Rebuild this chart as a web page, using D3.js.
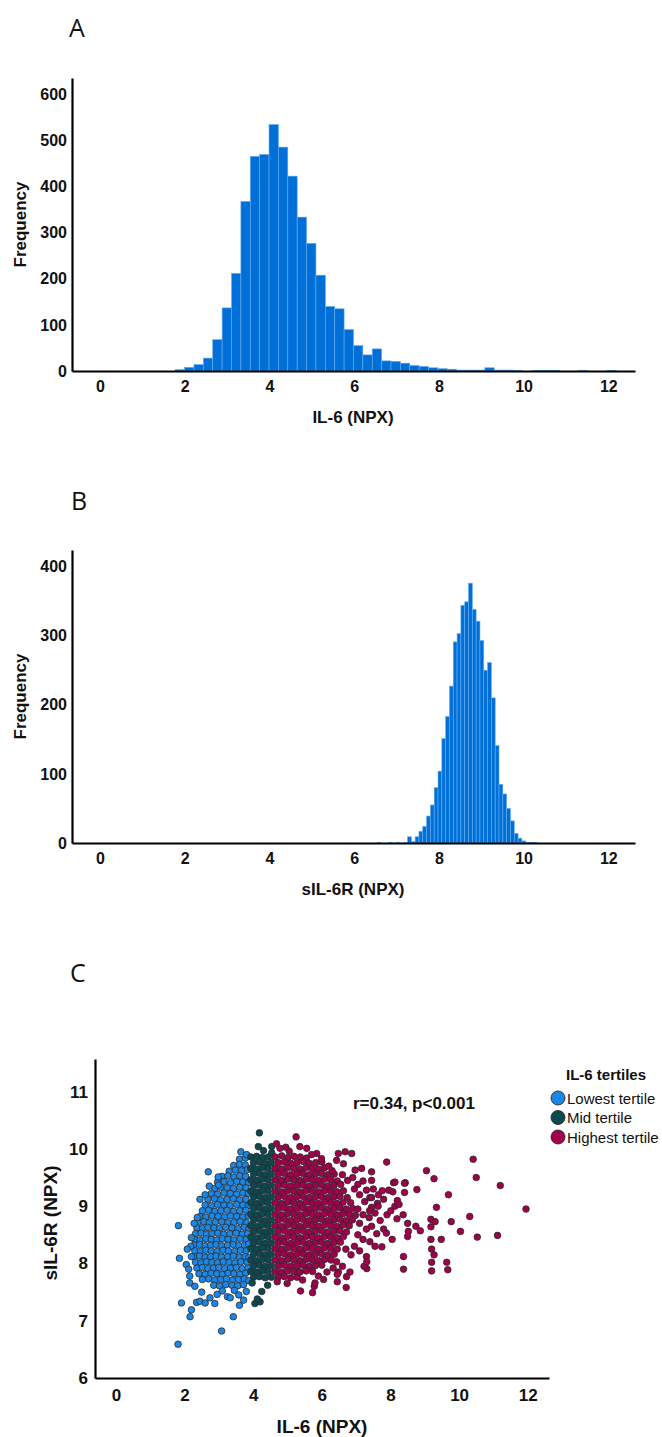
<!DOCTYPE html>
<html>
<head>
<meta charset="utf-8">
<script src="https://cdn.jsdelivr.net/npm/d3@7"></script>
<style>
  body { margin: 0; background: #fff; }
  svg text { font-family: "Liberation Sans", Arial, sans-serif; fill: #111; }
</style>
</head>
<body>
<svg id="fig" width="662" height="1437"></svg>
<script>
// ---- data ----
var il6BinStart = 1.776, il6BinWidth = 0.2215;
var il6Counts = [3,8,14,28,68,137,212,368,466,470,535,486,423,334,277,208,140,135,90,55,
                 35,48,22,21,17,12,10,7,5,4,2,2,2,7,2,2,1,0,1,1,1,0,0,1,0,0,1];

var sil6rBinStart = 6.54, sil6rBinWidth = 0.09;
var sil6rCounts = [1,0,0,1,0,1,0,1,9,2,9,17,24,39,55,80,104,151,183,227,291,303,344,349,
                   376,338,321,293,250,261,210,141,85,71,50,32,14,7,3,1,1,1];

var xTicks = [0,2,4,6,8,10,12];
var freqTicksA = [0,100,200,300,400,500,600];
var freqTicksB = [0,100,200,300,400];
var sil6rTicks = [6,7,8,9,10,11];

var tertileNames = ['Lowest tertile','Mid tertile','Highest tertile'];
var tertileColors = ['#1b86e3','#0c4a52','#a1004b'];

// [IL-6, sIL-6R] per tertile
var lowTertile = [
  [3.6,9.82],[3.77,9.84],
  [3.43,9.71],[3.6,9.73],[3.77,9.72],
  [3.3,9.61],[3.48,9.63],[3.66,9.62],[3.84,9.64],
  [3.09,9.52],[3.26,9.53],[3.44,9.51],[3.61,9.53],[3.78,9.52],
  [2.96,9.42],[3.15,9.43],[3.34,9.41],[3.52,9.43],[3.7,9.42],[3.86,9.41],
  [2.88,9.31],[3.05,9.33],[3.24,9.32],[3.43,9.31],[3.61,9.33],[3.79,9.32],
  [2.78,9.22],[2.96,9.21],[3.15,9.23],[3.33,9.22],[3.52,9.21],[3.7,9.23],[3.86,9.22],
  [2.68,9.12],[2.87,9.13],[3.05,9.11],[3.24,9.12],[3.42,9.13],[3.61,9.11],[3.79,9.12],
  [2.6,9.02],[2.78,9.01],[2.96,9.03],[3.15,9.02],[3.33,9.01],[3.52,9.03],[3.7,9.02],[3.86,9.01],
  [2.52,8.92],[2.7,8.93],[2.88,8.91],[3.06,8.92],[3.24,8.93],[3.43,8.91],[3.61,8.92],[3.79,8.93],
  [2.45,8.82],[2.62,8.81],[2.8,8.83],[2.98,8.82],[3.16,8.81],[3.34,8.83],[3.52,8.82],[3.7,8.81],[3.86,8.83],
  [2.4,8.72],[2.56,8.73],[2.72,8.71],[2.9,8.72],[3.08,8.73],[3.26,8.71],[3.44,8.72],[3.62,8.73],[3.8,8.71],
  [2.36,8.62],[2.52,8.61],[2.68,8.63],[2.86,8.62],[3.02,8.61],[3.2,8.63],[3.38,8.62],[3.56,8.61],[3.74,8.63],[3.87,8.6],
  [2.32,8.52],[2.48,8.53],[2.64,8.51],[2.8,8.52],[2.97,8.53],[3.14,8.51],[3.32,8.52],[3.5,8.53],[3.68,8.51],[3.84,8.52],
  [2.3,8.42],[2.45,8.41],[2.62,8.43],[2.78,8.42],[2.94,8.41],[3.1,8.43],[3.27,8.42],[3.44,8.41],[3.62,8.43],[3.8,8.42],
  [2.28,8.32],[2.44,8.33],[2.6,8.31],[2.76,8.32],[2.92,8.33],[3.08,8.31],[3.25,8.32],[3.42,8.33],[3.58,8.31],[3.75,8.32],[3.87,8.34],
  [2.3,8.22],[2.46,8.21],[2.62,8.23],[2.78,8.22],[2.95,8.21],[3.12,8.23],[3.28,8.22],[3.46,8.21],[3.63,8.23],[3.8,8.22],
  [2.28,8.12],[2.44,8.13],[2.6,8.11],[2.76,8.12],[2.92,8.13],[3.08,8.11],[3.25,8.12],[3.42,8.13],[3.6,8.11],[3.77,8.12],[3.87,8.1],
  [2.32,8.02],[2.48,8.01],[2.64,8.03],[2.8,8.02],[2.96,8.01],[3.13,8.03],[3.3,8.02],[3.47,8.01],[3.64,8.03],[3.82,8.02],
  [2.36,7.92],[2.52,7.93],[2.68,7.91],[2.84,7.92],[3.0,7.93],[3.17,7.91],[3.34,7.92],[3.51,7.93],[3.68,7.91],[3.85,7.92],
  [2.42,7.82],[2.6,7.81],[2.77,7.83],[2.94,7.82],[3.1,7.81],[3.27,7.83],[3.44,7.82],[3.61,7.81],[3.78,7.83],
  [2.52,7.72],[2.7,7.73],[2.88,7.71],[3.05,7.72],[3.22,7.73],[3.4,7.71],[3.57,7.72],[3.74,7.73],[3.87,7.7],
  [2.85,7.62],[3.02,7.61],[3.2,7.63],[3.38,7.62],[3.55,7.61],[3.72,7.63],
  [3.1,7.52],[3.45,7.53],[3.8,7.51],
  [1.81,6.59],[1.82,8.66],[1.85,8.09],[1.91,7.31],[2.16,7.07],[2.2,7.19],[2.35,7.32],[2.45,7.34],
  [2.6,7.31],[2.74,7.4],[2.88,7.3],[3.08,6.82],[3.42,7.07],[3.6,7.27],[3.72,7.36],[2.15,7.78],
  [2.15,7.66],[2.05,7.98],[2.12,7.9],[2.2,8.12],[2.69,9.6],[2.45,9.12],[2.98,9.51],[2.99,9.37],
  [3.64,9.95],[3.81,9.9],[2.18,8.3],[2.2,8.45],[2.28,8.7],[2.37,8.8],[2.6,9.2],[2.72,9.35],
  [2.95,7.46],[3.25,7.42],[3.58,7.45],[2.5,7.5],[2.3,7.6],[2.08,8.25],[3.33,7.4]
];

var midTertile = [
  [3.93,9.86],[4.1,9.87],[4.27,9.85],[4.44,9.86],
  [4.01,9.76],[4.18,9.77],[4.35,9.75],[4.53,9.76],
  [3.93,9.66],[4.1,9.65],[4.27,9.67],[4.44,9.66],
  [4.01,9.56],[4.18,9.57],[4.35,9.55],[4.53,9.56],
  [3.93,9.46],[4.1,9.45],[4.27,9.47],[4.44,9.46],
  [4.01,9.36],[4.18,9.37],[4.35,9.35],[4.53,9.36],
  [3.93,9.26],[4.1,9.25],[4.27,9.27],[4.44,9.26],
  [4.01,9.16],[4.18,9.17],[4.35,9.15],[4.53,9.16],
  [3.93,9.06],[4.1,9.05],[4.27,9.07],[4.44,9.06],
  [4.01,8.96],[4.18,8.97],[4.35,8.95],[4.53,8.96],
  [3.93,8.86],[4.1,8.85],[4.27,8.87],[4.44,8.86],
  [4.01,8.76],[4.18,8.77],[4.35,8.75],[4.53,8.76],
  [3.93,8.66],[4.1,8.65],[4.27,8.67],[4.44,8.66],
  [4.01,8.56],[4.18,8.57],[4.35,8.55],[4.53,8.56],
  [3.93,8.46],[4.1,8.45],[4.27,8.47],[4.44,8.46],
  [4.01,8.36],[4.18,8.37],[4.35,8.35],[4.53,8.36],
  [3.93,8.26],[4.1,8.25],[4.27,8.27],[4.44,8.26],
  [4.01,8.16],[4.18,8.17],[4.35,8.15],[4.53,8.16],
  [3.93,8.06],[4.1,8.05],[4.27,8.07],[4.44,8.06],
  [4.01,7.96],[4.18,7.97],[4.35,7.95],[4.53,7.96],
  [3.93,7.86],[4.1,7.85],[4.27,7.87],[4.44,7.86],
  [4.01,7.76],[4.18,7.77],[4.35,7.75],[4.53,7.76],
  [4.18,10.28],[4.15,10.04],[4.54,10.04],[4.54,9.93],[4.3,9.97],
  [4.05,7.3],[4.2,7.33],[4.25,7.51],[4.12,7.38],[4.42,7.62],[3.97,7.66]
];

var highTertile = [
  [4.64,9.86],[4.83,9.88],[5.01,9.85],[5.19,9.87],[5.37,9.86],[5.55,9.84],
  [4.73,9.76],[4.91,9.77],[5.09,9.75],[5.27,9.76],[5.45,9.78],[5.63,9.75],[5.82,9.76],[6.0,9.77],
  [4.64,9.66],[4.82,9.65],[5.0,9.67],[5.18,9.66],[5.36,9.65],[5.54,9.67],[5.72,9.66],[5.9,9.65],[6.08,9.67],
  [4.73,9.56],[4.91,9.57],[5.09,9.55],[5.27,9.56],[5.45,9.57],[5.63,9.55],[5.81,9.56],[5.99,9.57],[6.17,9.55],[6.36,9.56],
  [4.64,9.46],[4.82,9.45],[5.0,9.47],[5.18,9.46],[5.36,9.45],[5.54,9.47],[5.72,9.46],[5.9,9.45],[6.08,9.47],[6.26,9.46],[6.45,9.44],
  [4.73,9.36],[4.91,9.37],[5.09,9.35],[5.27,9.36],[5.45,9.37],[5.63,9.35],[5.81,9.36],[5.99,9.37],[6.17,9.35],[6.35,9.36],[6.55,9.38],
  [4.64,9.26],[4.82,9.25],[5.0,9.27],[5.18,9.26],[5.36,9.25],[5.54,9.27],[5.72,9.26],[5.9,9.25],[6.08,9.27],[6.26,9.26],[6.44,9.25],[6.63,9.27],
  [4.73,9.16],[4.91,9.17],[5.09,9.15],[5.27,9.16],[5.45,9.17],[5.63,9.15],[5.81,9.16],[5.99,9.17],[6.17,9.15],[6.35,9.16],[6.53,9.17],[6.74,9.15],
  [4.64,9.06],[4.82,9.05],[5.0,9.07],[5.18,9.06],[5.36,9.05],[5.54,9.07],[5.72,9.06],[5.9,9.05],[6.08,9.07],[6.26,9.06],[6.44,9.05],[6.62,9.07],[6.84,9.06],
  [4.73,8.96],[4.91,8.97],[5.09,8.95],[5.27,8.96],[5.45,8.97],[5.63,8.95],[5.81,8.96],[5.99,8.97],[6.17,8.95],[6.35,8.96],[6.53,8.97],[6.71,8.95],[6.9,8.96],
  [4.64,8.86],[4.82,8.85],[5.0,8.87],[5.18,8.86],[5.36,8.85],[5.54,8.87],[5.72,8.86],[5.9,8.85],[6.08,8.87],[6.26,8.86],[6.44,8.85],[6.62,8.87],[6.8,8.86],[6.98,8.84],
  [4.73,8.76],[4.91,8.77],[5.09,8.75],[5.27,8.76],[5.45,8.77],[5.63,8.75],[5.81,8.76],[5.99,8.77],[6.17,8.75],[6.35,8.76],[6.53,8.77],[6.71,8.75],[6.89,8.76],
  [4.64,8.66],[4.82,8.65],[5.0,8.67],[5.18,8.66],[5.36,8.65],[5.54,8.67],[5.72,8.66],[5.9,8.65],[6.08,8.67],[6.26,8.66],[6.44,8.65],[6.62,8.67],[6.8,8.66],
  [4.73,8.56],[4.91,8.57],[5.09,8.55],[5.27,8.56],[5.45,8.57],[5.63,8.55],[5.81,8.56],[5.99,8.57],[6.17,8.55],[6.35,8.56],[6.53,8.57],[6.72,8.55],
  [4.64,8.46],[4.82,8.45],[5.0,8.47],[5.18,8.46],[5.36,8.45],[5.54,8.47],[5.72,8.46],[5.9,8.45],[6.08,8.47],[6.26,8.46],[6.44,8.45],[6.63,8.47],
  [4.73,8.36],[4.91,8.37],[5.09,8.35],[5.27,8.36],[5.45,8.37],[5.63,8.35],[5.81,8.36],[5.99,8.37],[6.17,8.35],[6.35,8.36],[6.54,8.37],
  [4.64,8.26],[4.82,8.25],[5.0,8.27],[5.18,8.26],[5.36,8.25],[5.54,8.27],[5.72,8.26],[5.9,8.25],[6.08,8.27],[6.26,8.26],[6.45,8.25],
  [4.73,8.16],[4.91,8.17],[5.09,8.15],[5.27,8.16],[5.45,8.17],[5.63,8.15],[5.81,8.16],[5.99,8.17],[6.17,8.15],[6.36,8.16],
  [4.64,8.06],[4.82,8.05],[5.0,8.07],[5.18,8.06],[5.36,8.05],[5.54,8.07],[5.72,8.06],[5.9,8.05],[6.08,8.07],[6.27,8.06],
  [4.73,7.96],[4.91,7.97],[5.09,7.95],[5.27,7.96],[5.45,7.97],[5.63,7.95],[5.81,7.96],[6.0,7.97],
  [4.64,7.86],[4.82,7.85],[5.0,7.87],[5.18,7.86],[5.36,7.85],[5.54,7.87],[5.73,7.86],
  [4.73,7.76],[4.91,7.77],[5.09,7.75],[5.28,7.76],
  // upper edge
  [4.68,10.09],[4.78,10.01],[5.25,10.21],[5.36,10.04],[5.56,10.01],[5.85,9.92],[5.99,9.83],[6.48,9.92],
  [6.68,9.95],[6.87,9.92],[6.43,9.8],[6.63,9.74],[6.97,9.63],[7.16,9.66],[7.45,9.6],[7.89,9.77],
  [6.2,9.7],[6.3,9.62],[5.7,9.9],[5.05,9.96],[4.95,10.03],
  // sparse right part
  [6.6,9.55],[6.75,9.45],[6.9,9.5],[7.05,9.38],[7.2,9.44],[7.3,9.28],[7.5,9.3],[7.65,9.2],
  [7.4,9.15],[7.1,9.2],[6.95,9.3],[7.25,9.08],[7.45,8.98],[7.62,9.05],[7.8,9.12],[7.95,9.28],
  [8.09,9.41],[8.43,9.41],[8.77,9.29],[8.41,9.24],[8.2,9.1],[7.05,8.95],[7.2,8.85],[7.38,8.8],
  [7.55,8.88],[7.7,8.75],[7.9,8.85],[8.13,9.0],[8.25,9.03],[8.01,8.92],[8.19,8.78],[8.37,8.85],
  [7.1,8.7],[7.3,8.6],[7.45,8.65],[7.6,8.52],[7.8,8.6],[8.5,8.7],[8.52,8.56],[8.74,8.65],
  [8.87,8.57],[8.5,8.47],[7.05,8.5],[7.2,8.42],[7.4,8.38],[7.55,8.3],[7.75,8.29],[7.88,8.53],
  [8.05,8.42],[6.95,8.3],[7.1,8.22],[7.3,8.12],[6.85,8.15],[6.7,8.25],[6.82,7.85],[6.48,7.85],
  [6.43,8.03],[6.72,7.77],[6.6,7.95],[7.31,7.91],[7.23,7.95],[7.31,8.03],[8.38,8.12],[8.38,7.9],
  [8.13,9.42],[7.45,9.45],[8.41,9.4],[7.76,9.27],[8.07,9.25],[7.45,9.15],[7.39,8.92],[7.64,9.0],
  // lower edge
  [6.71,7.58],[6.45,7.68],[5.73,7.49],[5.38,7.52],[5.78,7.6],[5.44,7.71],[6.45,7.81],[6.33,7.92],
  [5.8,7.66],[5.34,7.85],[4.99,7.65],[4.7,7.68],[5.9,7.78],[6.15,7.85],[6.05,7.72],
  // far right
  [9.05,9.62],[9.27,9.48],[9.34,8.98],[9.69,9.2],[9.77,8.73],[10.31,8.82],[10.04,8.56],[10.53,8.46],
  [11.12,8.49],[9.18,8.77],[9.18,8.64],[9.3,8.73],[9.48,8.42],[9.18,8.42],[9.2,8.25],[9.27,8.15],
  [9.2,8.02],[9.64,8.02],[9.67,7.89],[9.2,7.87],[10.41,9.82],[10.5,9.5],[11.2,9.36],[11.95,8.95]
];

// ---- drawing ----
var svg = d3.select('#fig');
var intFmt = d3.format('d');

function panelLetter(txt, x, y) {
  svg.append('text')
    .attr('x', x).attr('y', y)
    .style('font-family', '"Open Sans", sans-serif')
    .style('font-size', '25px')
    .text(txt);
}

function styleAxis(sel, size) {
  sel.select('.domain').attr('stroke', '#000').attr('stroke-width', 2.2);
  sel.selectAll('text')
    .style('font-size', size + 'px')
    .style('font-weight', 'bold')
    .attr('fill', '#111');
}

function histogram(o) {
  var g = svg.append('g');
  var x = d3.scaleLinear().domain([-0.66, 12.63]).range([72, 635]);
  var y = d3.scaleLinear().domain([0, o.yMax]).range([o.bottom, o.top]);

  var bins = o.counts.map(function(c, i) {
    return { x0: o.start + i * o.width, x1: o.start + (i + 1) * o.width, n: c };
  }).filter(function(d) { return d.n > 0; });

  g.selectAll('rect').data(bins).enter().append('rect')
    .attr('x', function(d) { return x(d.x0); })
    .attr('width', function(d) { return x(d.x1) - x(d.x0); })
    .attr('y', function(d) { return y(d.n); })
    .attr('height', function(d) { return y(0) - y(d.n); })
    .attr('fill', '#0070d8')
    .attr('stroke', '#62adf2')
    .attr('stroke-width', 0.6);

  g.append('g')
    .attr('transform', 'translate(0,' + o.bottom + ')')
    .call(d3.axisBottom(x).tickValues(xTicks).tickFormat(intFmt).tickSize(0).tickPadding(10))
    .call(styleAxis, 16);

  g.append('g')
    .attr('transform', 'translate(72,0)')
    .call(d3.axisLeft(y).tickValues(o.ticks).tickFormat(intFmt).tickSize(0).tickPadding(5))
    .call(styleAxis, 16);

  g.append('text')
    .attr('x', 353).attr('y', o.bottom + 52)
    .attr('text-anchor', 'middle')
    .style('font-size', '17px').style('font-weight', 'bold')
    .text(o.xLabel);

  g.append('text')
    .attr('transform', 'translate(26,' + (o.top + o.bottom) / 2 + ') rotate(-90)')
    .attr('text-anchor', 'middle')
    .style('font-size', '17px').style('font-weight', 'bold')
    .text('Frequency');
}

panelLetter('A', 69, 37);
histogram({ counts: il6Counts, start: il6BinStart, width: il6BinWidth,
            yMax: 636, top: 78, bottom: 371, ticks: freqTicksA, xLabel: 'IL-6 (NPX)' });

panelLetter('B', 71, 510);
histogram({ counts: sil6rCounts, start: sil6rBinStart, width: sil6rBinWidth,
            yMax: 424, top: 550, bottom: 843, ticks: freqTicksB, xLabel: 'sIL-6R (NPX)' });

// scatter C
panelLetter('C', 70, 982);
var sx = d3.scaleLinear().domain([-0.61, 12.62]).range([95, 549]);
var sy = d3.scaleLinear().domain([6, 11.57]).range([1378, 1059]);
var gc = svg.append('g');

[lowTertile, midTertile, highTertile].forEach(function(pts, k) {
  gc.append('g').selectAll('circle').data(pts).enter().append('circle')
    .attr('cx', function(d) { return sx(d[0]); })
    .attr('cy', function(d) { return sy(d[1]); })
    .attr('r', 3.3)
    .attr('fill', tertileColors[k])
    .attr('stroke', '#2a2a2a')
    .attr('stroke-width', 0.8);
});

gc.append('g')
  .attr('transform', 'translate(0,1378)')
  .call(d3.axisBottom(sx).tickValues(xTicks).tickFormat(intFmt).tickSize(0).tickPadding(11))
  .call(styleAxis, 17);

gc.append('g')
  .attr('transform', 'translate(95,0)')
  .call(d3.axisLeft(sy).tickValues(sil6rTicks).tickFormat(intFmt).tickSize(0).tickPadding(7))
  .call(styleAxis, 17);

gc.append('text')
  .attr('x', 322).attr('y', 1433)
  .attr('text-anchor', 'middle')
  .style('font-size', '19px').style('font-weight', 'bold')
  .text('IL-6 (NPX)');

gc.append('text')
  .attr('transform', 'translate(57,1223) rotate(-90)')
  .attr('text-anchor', 'middle')
  .style('font-size', '19px').style('font-weight', 'bold')
  .text('sIL-6R (NPX)');

gc.append('text')
  .attr('x', 353).attr('y', 1109)
  .style('font-size', '17px').style('font-weight', 'bold')
  .text('r=0.34, p<0.001');

// legend
var lg = svg.append('g');
lg.append('text')
  .attr('x', 566).attr('y', 1080)
  .style('font-size', '15px').style('font-weight', 'bold')
  .text('IL-6 tertiles');

var items = lg.selectAll('g.item').data(tertileNames).enter().append('g')
  .attr('transform', function(d, i) { return 'translate(558,' + (1098 + i * 19.5) + ')'; });
items.append('circle')
  .attr('r', 7)
  .attr('fill', function(d, i) { return tertileColors[i]; })
  .attr('stroke', '#2a2a2a').attr('stroke-width', 0.9);
items.append('text')
  .attr('x', 9).attr('y', 5.5)
  .style('font-size', '15px')
  .text(function(d) { return d; });
</script>
</body>
</html>
